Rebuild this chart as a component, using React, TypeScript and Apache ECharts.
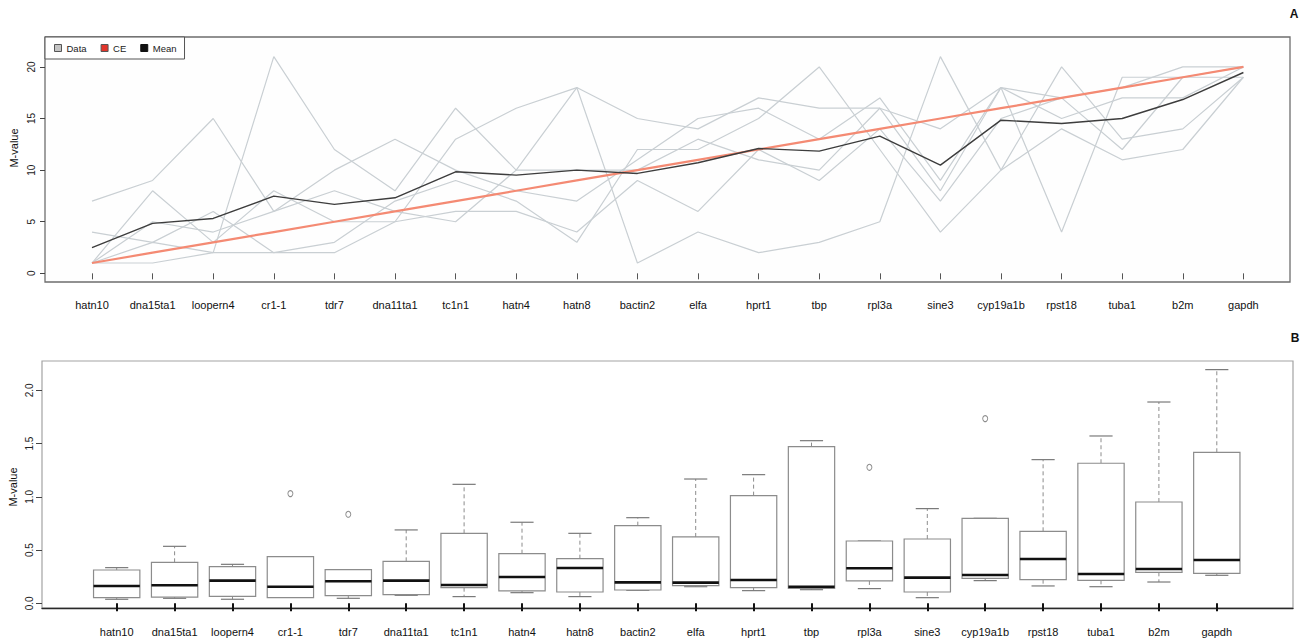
import React, { useEffect, useRef } from "react";
import * as echarts from "echarts";

const genes = ["hatn10", "dna15ta1", "loopern4", "cr1-1", "tdr7", "dna11ta1", "tc1n1", "hatn4", "hatn8", "bactin2", "elfa", "hprt1", "tbp", "rpl3a", "sine3", "cyp19a1b", "rpst18", "tuba1", "b2m", "gapdh"];

// Panel A: rankings of each method (gray lines)
const method1 = [7, 9, 15, 6, 10, 13, 10, 8, 7, 11, 15, 16, 13, 17, 9, 18, 17, 18, 20, 20];
const method2 = [1, 3, 2, 21, 12, 8, 16, 10, 18, 1, 4, 2, 3, 5, 21, 10, 20, 13, 14, 19];
const method3 = [1, 8, 3, 8, 5, 5, 13, 16, 18, 15, 14, 17, 16, 16, 8, 18, 4, 19, 19, 20];
const method4 = [4, 3, 6, 2, 3, 7, 9, 7, 3, 12, 12, 15, 20, 12, 4, 10, 14, 11, 12, 19];
const method5 = [1, 5, 4, 6, 8, 6, 5, 10, 10, 10, 13, 11, 10, 16, 14, 18, 15, 17, 17, 20];
const method6 = [1, 1, 2, 2, 2, 5, 6, 6, 4, 9, 6, 12, 9, 14, 7, 15, 17, 12, 19, 19];
const ceValues = [1, 2, 3, 4, 5, 6, 7, 8, 9, 10, 11, 12, 13, 14, 15, 16, 17, 18, 19, 20];
const meanValues = [2.5, 4.84, 5.32, 7.48, 6.68, 7.32, 9.84, 9.52, 10.0, 9.68, 10.71, 12.1, 11.84, 13.29, 10.48, 14.84, 14.52, 15.0, 16.84, 19.46];
const yTicksA = [0, 5, 10, 15, 20];

// Panel B: box statistics
const boxLow = [0.038, 0.047, 0.038, 0.056, 0.047, 0.075, 0.063, 0.1, 0.063, 0.122, 0.156, 0.119, 0.128, 0.138, 0.053, 0.213, 0.163, 0.156, 0.2, 0.263];
const boxQ1 = [0.053, 0.059, 0.066, 0.053, 0.072, 0.081, 0.147, 0.116, 0.106, 0.125, 0.166, 0.147, 0.141, 0.21, 0.106, 0.235, 0.222, 0.216, 0.291, 0.282];
const boxMedian = [0.163, 0.169, 0.213, 0.156, 0.207, 0.213, 0.172, 0.247, 0.332, 0.197, 0.194, 0.219, 0.156, 0.329, 0.241, 0.266, 0.416, 0.275, 0.322, 0.407];
const boxQ3 = [0.313, 0.385, 0.344, 0.438, 0.316, 0.394, 0.657, 0.466, 0.419, 0.729, 0.623, 1.011, 1.471, 0.585, 0.604, 0.798, 0.676, 1.315, 0.951, 1.418];
const boxHigh = [0.335, 0.535, 0.366, 0.438, 0.316, 0.689, 1.117, 0.761, 0.657, 0.804, 1.167, 1.208, 1.527, 0.585, 0.889, 0.798, 1.349, 1.571, 1.89, 2.194];
const outlierGenes = ["cr1-1", "tdr7", "rpl3a", "cyp19a1b"];
const outlierValues = [1.03, 0.836, 1.277, 1.734];
const yTicksB = [0, 0.5, 1, 1.5, 2];

const FONT = "Liberation Sans, Arial, sans-serif";

export default function App() {
  const ref = useRef<HTMLDivElement>(null);
  useEffect(() => {
    if (!ref.current) return;
    const chart = echarts.init(ref.current, null, { renderer: "svg" });
    const grayLine = { color: "#c9cfd3", width: 1.2 };
    const methods = [method1, method2, method3, method4, method5, method6];
    const option: any = {
      animation: false,
      backgroundColor: "#ffffff",
      textStyle: { fontFamily: FONT },
      legend: {
        left: 45,
        top: 37,
        orient: "horizontal",
        icon: "rect",
        itemWidth: 7,
        itemHeight: 7,
        itemGap: 14,
        padding: [6, 8, 6, 9],
        backgroundColor: "#ffffff",
        borderColor: "#555555",
        borderWidth: 1,
        borderRadius: 0,
        selectedMode: false,
        textStyle: { fontSize: 9.5, color: "#222", fontFamily: FONT },
        data: [
          { name: "Data", itemStyle: { color: "#c4c4c4", borderColor: "#555", borderWidth: 1 } },
          { name: "CE", itemStyle: { color: "#e2352b", borderColor: "#555", borderWidth: 1 } },
          { name: "Mean", itemStyle: { color: "#111111", borderColor: "#111", borderWidth: 1 } },
        ],
      },
      grid: [
        { left: 45, top: 37, width: 1245, height: 245, show: true, borderColor: "#6e6e6e", borderWidth: 1.3, backgroundColor: "#fefefe", containLabel: false },
        { left: 92, top: 37, width: 1151.4, height: 245, show: false, containLabel: false },
        { left: 42, top: 361, width: 1251, height: 247, show: true, borderColor: "#a3a3a3", borderWidth: 1.2, backgroundColor: "#ffffff", containLabel: false },
        { left: 87.75, top: 361, width: 1158, height: 247, show: false, containLabel: false },
      ],
      xAxis: [
        { type: "value", gridIndex: 0, min: 0, max: 1, show: false },
        {
          type: "category", gridIndex: 1, data: genes, boundaryGap: false,
          axisLine: { show: false },
          axisTick: { show: true, length: 6, lineStyle: { color: "#555", width: 1 } },
          axisLabel: { margin: 17, fontSize: 11, color: "#111", fontFamily: FONT, interval: 0 },
          splitLine: { show: false },
        },
        {
          type: "value", gridIndex: 2, min: 0, max: 1, position: "bottom",
          axisLine: { show: true, onZero: false, lineStyle: { color: "#2a2a2a", width: 1.3 } },
          axisTick: { show: false }, axisLabel: { show: false }, splitLine: { show: false },
        },
        {
          type: "category", gridIndex: 3, data: genes, boundaryGap: true,
          axisLine: { show: false },
          axisTick: { show: true, alignWithLabel: true, length: 8, lineStyle: { color: "#111", width: 2 } },
          axisLabel: { margin: 18, fontSize: 11, color: "#111", fontFamily: FONT, interval: 0 },
          splitLine: { show: false },
        },
      ],
      yAxis: [
        {
          type: "value", gridIndex: 0, min: -0.84, max: 22.9,
          axisLine: { show: false },
          axisTick: { show: true, length: 5, customValues: yTicksA, lineStyle: { color: "#444" } },
          axisLabel: { show: true, rotate: 90, margin: 9, fontSize: 10, color: "#222", customValues: yTicksA, fontFamily: FONT },
          splitLine: { show: false },
        },
        { type: "value", gridIndex: 1, min: -0.84, max: 22.9, show: false },
        {
          type: "value", gridIndex: 2, min: -0.044, max: 2.275,
          axisLine: { show: false },
          axisTick: { show: true, length: 6, customValues: yTicksB, lineStyle: { color: "#444" } },
          axisLabel: {
            show: true, rotate: 90, margin: 8, fontSize: 10, color: "#222", customValues: yTicksB, fontFamily: FONT,
            formatter: (v: number) => v.toFixed(1),
          },
          splitLine: { show: false },
        },
        { type: "value", gridIndex: 3, min: -0.044, max: 2.275, show: false },
      ],
      graphic: [
        { type: "text", x: 14, y: 148, rotation: Math.PI / 2, style: { text: "M-value", fontSize: 11, fill: "#111", fontFamily: FONT, textAlign: "center", textVerticalAlign: "middle" } },
        { type: "text", x: 13, y: 487, rotation: Math.PI / 2, style: { text: "M-value", fontSize: 11, fill: "#111", fontFamily: FONT, textAlign: "center", textVerticalAlign: "middle" } },
        { type: "text", x: 1294, y: 14, style: { text: "A", fontSize: 12, fontWeight: "bold", fill: "#111", fontFamily: FONT, textAlign: "center", textVerticalAlign: "middle" } },
        { type: "text", x: 1295, y: 338, style: { text: "B", fontSize: 12, fontWeight: "bold", fill: "#111", fontFamily: FONT, textAlign: "center", textVerticalAlign: "middle" } },
      ],
      series: [
        ...methods.map((m) => ({
          type: "line", name: "Data", xAxisIndex: 1, yAxisIndex: 1, data: m,
          symbol: "none", lineStyle: grayLine, itemStyle: { color: "#c4c4c4" }, z: 2,
        })),
        {
          type: "line", name: "CE", xAxisIndex: 1, yAxisIndex: 1, data: ceValues,
          symbol: "none", lineStyle: { color: "#f48a73", width: 2.2 }, itemStyle: { color: "#e2352b" }, z: 3,
        },
        {
          type: "line", name: "Mean", xAxisIndex: 1, yAxisIndex: 1, data: meanValues,
          symbol: "none", lineStyle: { color: "#3d3d3d", width: 1.4 }, itemStyle: { color: "#111" }, z: 4,
        },
        {
          type: "custom", name: "box", xAxisIndex: 3, yAxisIndex: 3,
          data: genes.map((g, i) => [i, boxLow[i], boxQ1[i], boxMedian[i], boxQ3[i], boxHigh[i]]),
          encode: { x: 0, y: [1, 2, 3, 4, 5] },
          renderItem: (params: any, api: any) => {
            const idx = api.value(0);
            const pLow = api.coord([idx, api.value(1)]);
            const pQ1 = api.coord([idx, api.value(2)]);
            const pMed = api.coord([idx, api.value(3)]);
            const pQ3 = api.coord([idx, api.value(4)]);
            const pHigh = api.coord([idx, api.value(5)]);
            const band = api.size([1, 0])[0];
            const w = band * 0.8;
            const x = pMed[0];
            const c = w / 4;
            const dash = { stroke: "#8c8c8c", lineWidth: 1, lineDash: [4, 3] };
            const capS = { stroke: "#7a7a7a", lineWidth: 1.2 };
            return {
              type: "group",
              children: [
                { type: "line", shape: { x1: x, y1: pQ3[1], x2: x, y2: pHigh[1] }, style: dash },
                { type: "line", shape: { x1: x, y1: pQ1[1], x2: x, y2: pLow[1] }, style: dash },
                { type: "line", shape: { x1: x - c, y1: pHigh[1], x2: x + c, y2: pHigh[1] }, style: capS },
                { type: "line", shape: { x1: x - c, y1: pLow[1], x2: x + c, y2: pLow[1] }, style: capS },
                { type: "rect", shape: { x: x - w / 2, y: pQ3[1], width: w, height: pQ1[1] - pQ3[1] }, style: { fill: "#ffffff", stroke: "#8c8c8c", lineWidth: 1.2 } },
                { type: "line", shape: { x1: x - w / 2, y1: pMed[1], x2: x + w / 2, y2: pMed[1] }, style: { stroke: "#111", lineWidth: 2.6 } },
              ],
            };
          },
          z: 2,
        },
        {
          type: "scatter", name: "outliers", xAxisIndex: 3, yAxisIndex: 3,
          data: outlierGenes.map((g, i) => [g, outlierValues[i]]),
          symbol: "circle", symbolSize: [5, 6],
          itemStyle: { color: "#ffffff", borderColor: "#6f6f6f", borderWidth: 1 }, z: 3,
        },
      ],
    };
    chart.setOption(option);
    return () => chart.dispose();
  }, []);
  return <div ref={ref} style={{ position: "absolute", left: 0, top: 0, width: 1308, height: 644 }} />;
}
